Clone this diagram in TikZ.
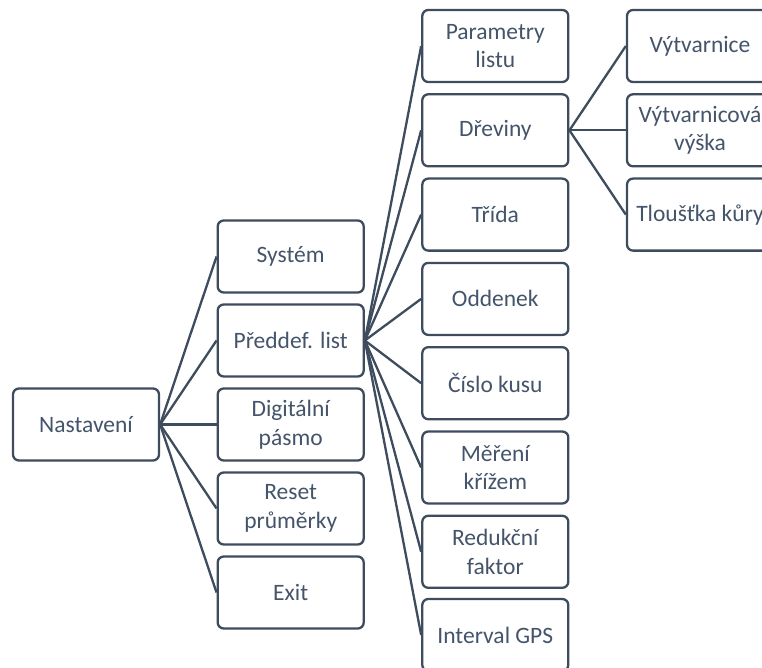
\documentclass[tikz,border=0pt]{standalone}
\usepackage{fontspec}
\setmainfont{Carlito}
\definecolor{edge}{HTML}{3E4C5E}
\definecolor{txt}{HTML}{44546A}
\begin{document}
\begin{tikzpicture}[x=1pt,y=-1pt,
  box/.style={draw=edge, line width=2.3pt, rounded corners=6pt, fill=white,
    minimum width=146pt, minimum height=72pt, inner sep=0pt, align=center,
    text=txt, font=\fontsize{23.5}{28.5}\selectfont},
  link/.style={draw=edge, line width=2.3pt}]
\useasboundingbox (0,0) rectangle (762,668);
\clip (0,0) rectangle (762,668);
% column 1
\node[box] (nast) at (86,424.5) {Nastavení};
% column 2
\node[box] (sys) at (290.7,256.5) {Systém};
\node[box] (pred) at (290.7,340.5) {Předdef. list};
\node[box] (dig) at (290.7,424.5) {Digitální\\pásmo};
\node[box] (reset) at (290.7,508.5) {Reset\\průměrky};
\node[box] (exit) at (290.7,592.5) {Exit};
% column 3
\node[box] (param) at (495.3,46) {Parametry\\listu};
\node[box] (drev) at (495.3,130.3) {Dřeviny};
\node[box] (trida) at (495.3,214.6) {Třída};
\node[box] (odd) at (495.3,298.9) {Oddenek};
\node[box] (cislo) at (495.3,383.2) {Číslo kusu};
\node[box] (mereni) at (495.3,467.5) {Měření\\křížem};
\node[box] (red) at (495.3,551.8) {Redukční\\faktor};
\node[box] (gps) at (495.3,635) {Interval GPS};
% column 4
\node[box] (vyt) at (700,46) {Výtvarnice};
\node[box] (vytv) at (700,130.3) {Výtvarnicová\\výška};
\node[box] (kura) at (700,214.6) {Tloušťka kůry};
% connectors
\foreach \c in {sys,pred,dig,reset,exit}
  \draw[link] (nast.east) -- (\c.west);
\foreach \c in {param,drev,trida,odd,cislo,mereni,red,gps}
  \draw[link] (pred.east) -- (\c.west);
\foreach \c in {vyt,vytv,kura}
  \draw[link] (drev.east) -- (\c.west);
\end{tikzpicture}
\end{document}
